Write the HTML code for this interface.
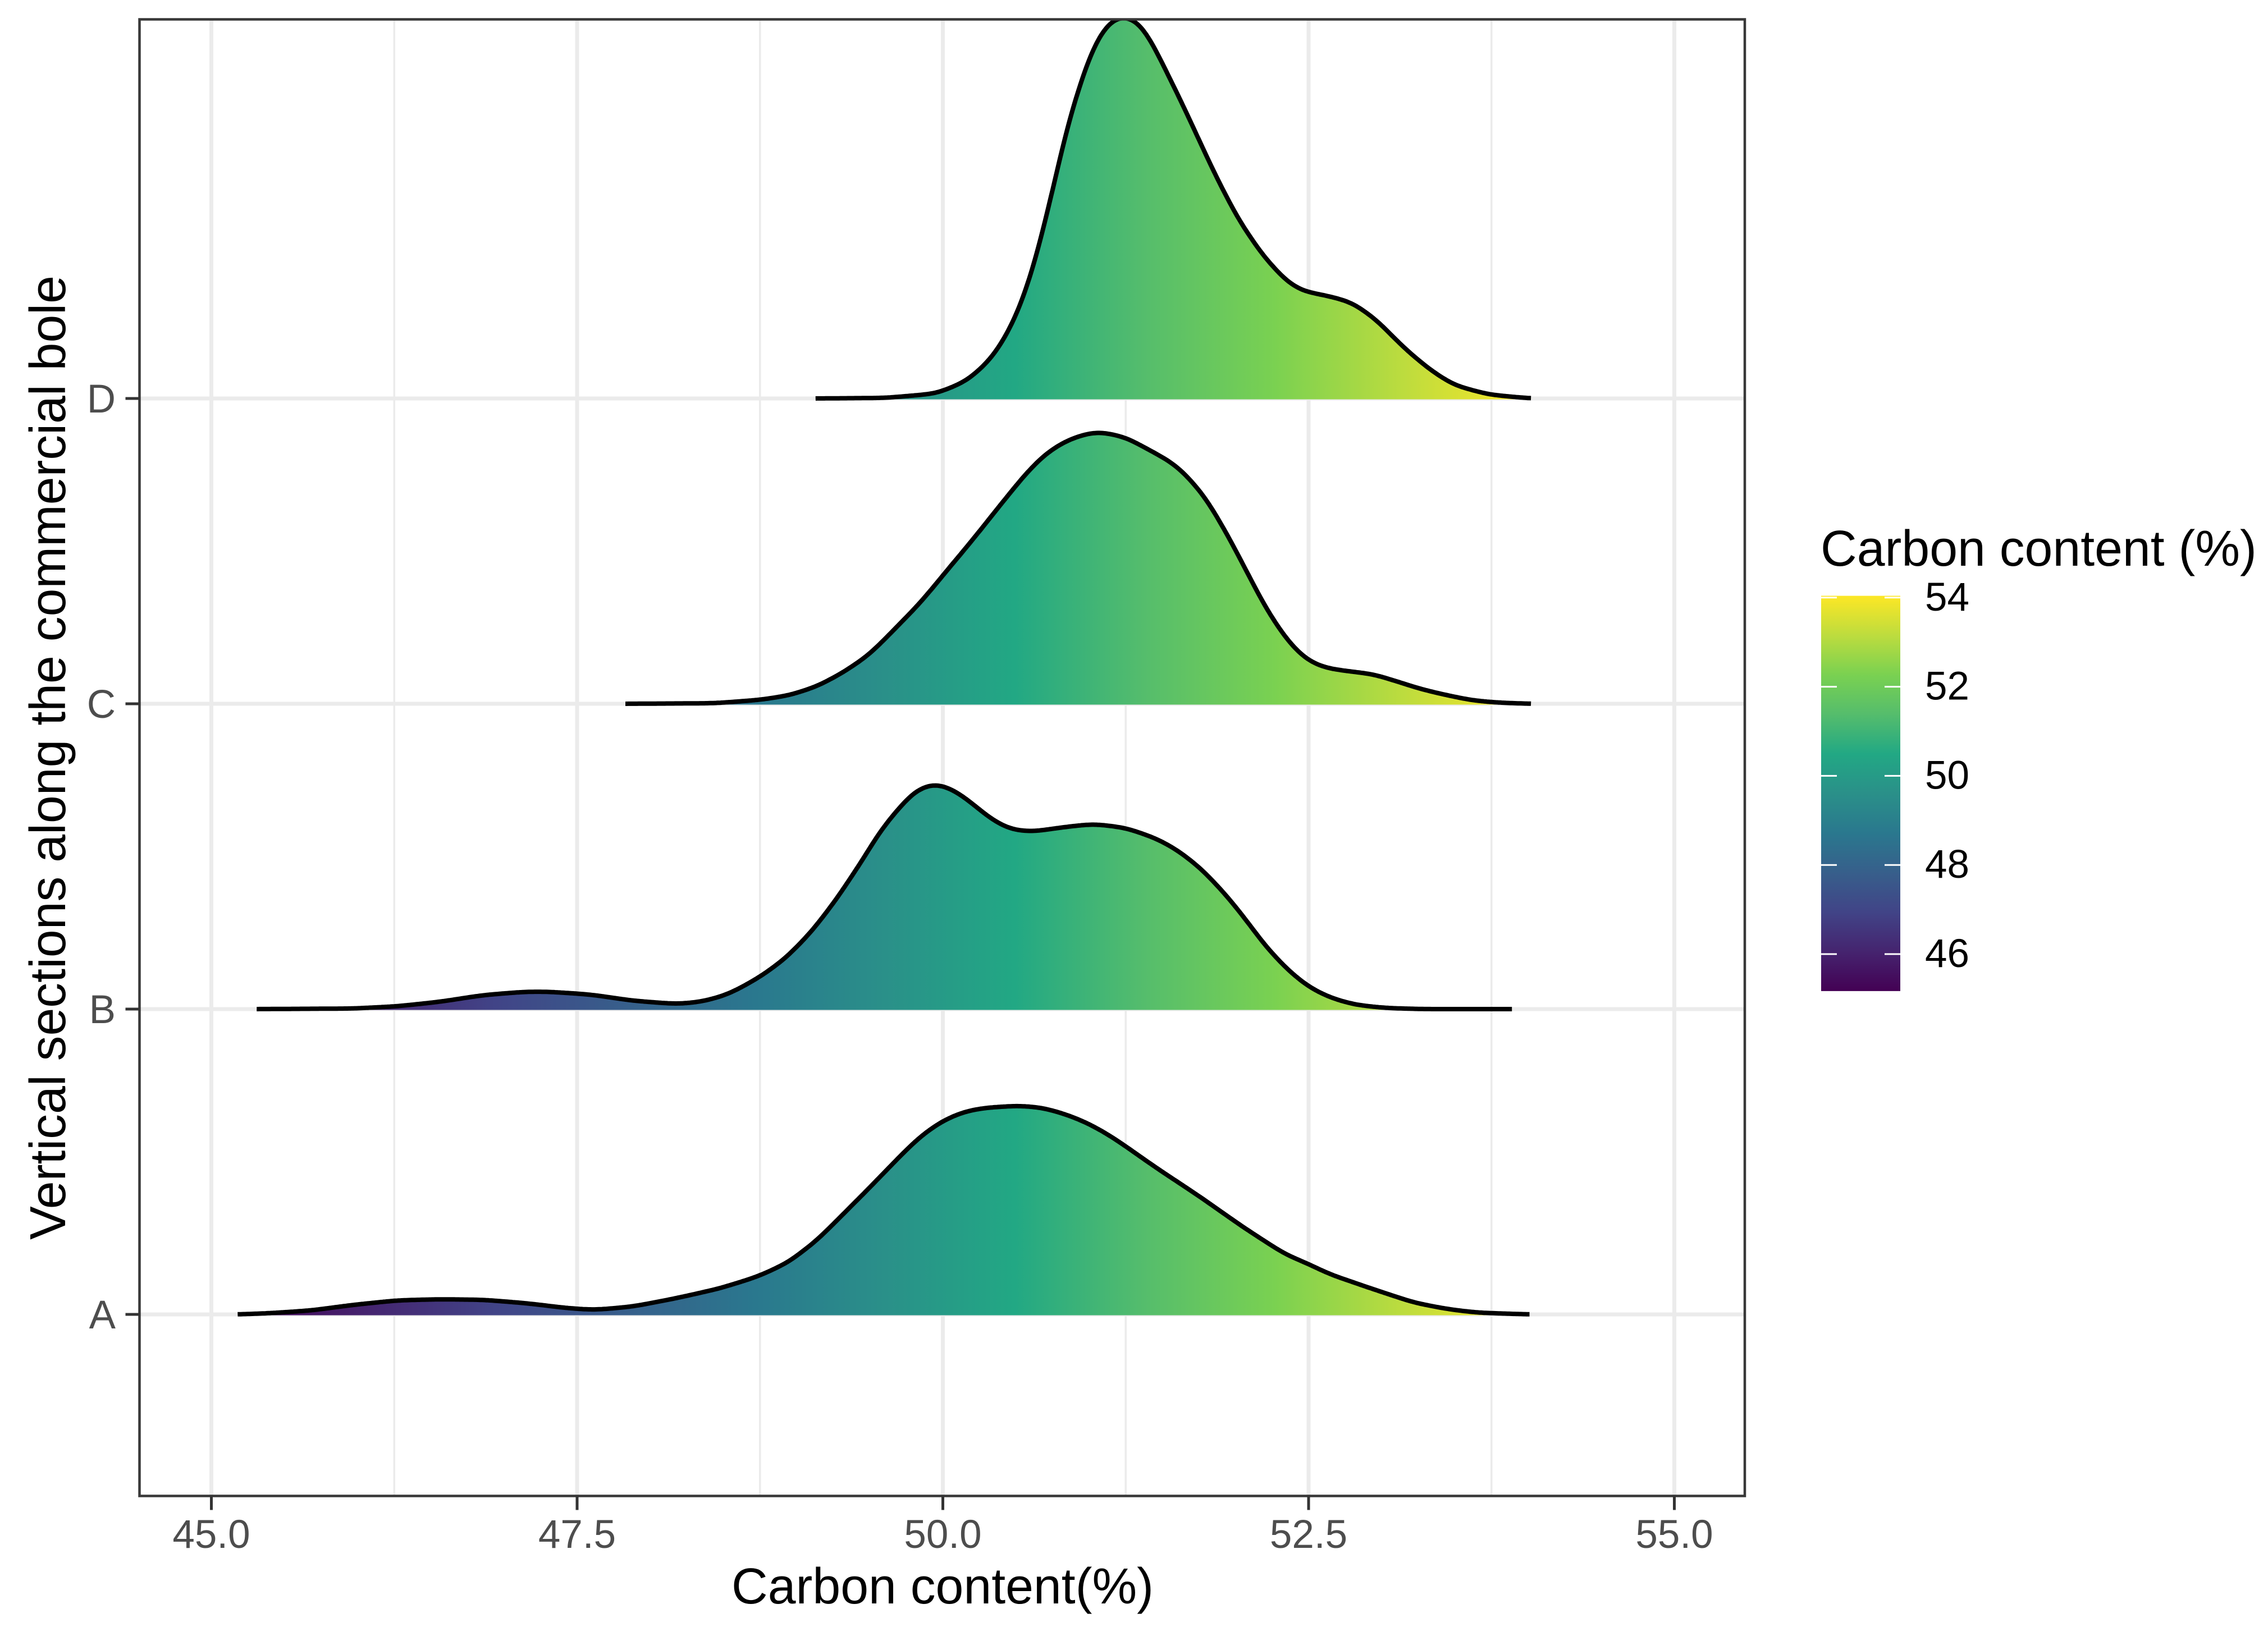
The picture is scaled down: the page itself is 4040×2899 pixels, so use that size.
<!DOCTYPE html>
<html lang="en">
<head>
<meta charset="utf-8">
<title>Carbon content ridgeline chart</title>
<style>
html,body{margin:0;padding:0;background:#fff;}
svg{display:block;font-family:"Liberation Sans",Arial,sans-serif;}
</style>
</head>
<body>
<svg id="chart" xmlns="http://www.w3.org/2000/svg" width="4040" height="2899" viewBox="0 0 4040 2899">
  <rect x="0" y="0" width="4040" height="2899" fill="#ffffff"/>
  <defs>
    <clipPath id="panel-clip"><rect x="248.5" y="34.5" width="2859.5" height="2631"/></clipPath>
  </defs>
  <g id="grid-layer"></g>
  <g id="ridge-layer" clip-path="url(#panel-clip)"></g>
  <rect x="248.5" y="34.5" width="2859.5" height="2631" fill="none" stroke="#383838" stroke-width="4.5"/>
  <g id="axis-layer"></g>
  <text x="1679" y="2857" font-size="89.6" text-anchor="middle" fill="#000000">Carbon content(%)</text>
  <text transform="translate(116,1350) rotate(-90)" x="0" y="0" font-size="89.6" text-anchor="middle" fill="#000000">Vertical sections along the commercial bole</text>
  <g id="legend-layer">
    <text x="3243" y="1008" font-size="89.6" fill="#000000">Carbon content (%)</text>
  </g>
</svg>
<script>
// ---- Chart data ----
const categories = ["A", "B", "C", "D"];
const xTickValues = [45, 47.5, 50, 52.5, 55];
const xTickLabels = ["45.0", "47.5", "50.0", "52.5", "55.0"];
const xMinorValues = [46.25, 48.75, 51.25, 53.75];
const legendValues = [46, 48, 50, 52, 54];
const legendLabels = ["46", "48", "50", "52", "54"];
const fillLimits = [45.17, 54.04];
const paletteColors = ["#440154","#45246f","#414487","#375f8b","#2a788e","#2a9089","#22a884","#55bd6c","#7ad151","#bddc3e","#fde725"];

const carbonA = [45.18,45.39,45.68,45.97,46.27,46.56,46.86,47.15,47.44,47.62,47.88,48.18,48.47,48.73,48.94,49.14,49.32,49.50,49.70,49.84,49.99,50.14,50.28,50.52,50.69,50.87,51.02,51.17,51.46,51.75,52.05,52.34,52.49,52.64,52.93,53.22,53.46,53.66,54.01];
const densityA = [0,0.002,0.007,0.017,0.025,0.027,0.026,0.020,0.011,0.008,0.014,0.029,0.046,0.067,0.092,0.132,0.179,0.226,0.280,0.316,0.344,0.361,0.368,0.372,0.368,0.354,0.337,0.314,0.261,0.211,0.156,0.107,0.091,0.072,0.046,0.021,0.009,0.003,0];

const carbonB = [45.31,45.97,46.27,46.56,46.86,47.15,47.30,47.59,47.88,48.18,48.35,48.53,48.73,48.91,49.09,49.26,49.44,49.58,49.70,49.81,49.95,50.08,50.20,50.32,50.46,50.61,50.82,51.03,51.25,51.46,51.60,51.75,51.90,52.05,52.19,52.34,52.49,52.64,52.81,53.02,53.28,53.89];
const densityB = [0,0.001,0.005,0.013,0.025,0.031,0.031,0.026,0.015,0.009,0.013,0.026,0.054,0.087,0.134,0.191,0.261,0.321,0.358,0.390,0.403,0.390,0.367,0.340,0.320,0.316,0.324,0.330,0.323,0.304,0.284,0.254,0.214,0.167,0.117,0.074,0.041,0.021,0.008,0.002,0,0];

const carbonC = [47.83,48.44,48.75,48.95,49.14,49.32,49.50,49.67,49.85,50.02,50.20,50.38,50.55,50.68,50.82,50.96,51.07,51.25,51.42,51.58,51.71,51.82,51.93,52.04,52.15,52.26,52.37,52.48,52.61,52.77,52.94,53.09,53.27,53.45,53.62,53.80,54.02];
const densityC = [0,0.001,0.007,0.015,0.031,0.056,0.088,0.133,0.181,0.235,0.291,0.350,0.405,0.441,0.466,0.480,0.485,0.475,0.451,0.428,0.395,0.358,0.308,0.255,0.198,0.148,0.108,0.079,0.064,0.058,0.053,0.041,0.026,0.015,0.006,0.002,0];

const carbonD = [49.13,49.61,49.96,50.17,50.34,50.44,50.55,50.65,50.75,50.83,50.92,51.02,51.13,51.25,51.37,51.50,51.67,51.84,52.01,52.18,52.35,52.46,52.63,52.80,52.97,53.14,53.32,53.49,53.73,54.02];
const densityD = [0,0.001,0.009,0.032,0.073,0.114,0.175,0.262,0.369,0.466,0.547,0.624,0.672,0.684,0.664,0.598,0.507,0.410,0.323,0.257,0.208,0.191,0.183,0.171,0.139,0.093,0.053,0.024,0.007,0];

// ---- Axis functions ----
function xScale(v) { return 376.5 + (v - 45) * 260.6; }
function rowScale(i) { return 2342 - i * 544; }
function densityScale(d) { return d * 1000; }
function legendScale(v) { return 1700 - (v - 46) * 79.4; }

const SVG_NS = "http://www.w3.org/2000/svg";
function make(tag, attrs, parent) {
  const el = document.createElementNS(SVG_NS, tag);
  for (const key in attrs) el.setAttribute(key, attrs[key]);
  parent.appendChild(el);
  return el;
}

// Density estimate curve: read-off points are interpolated on a fine grid and
// lightly smoothed so the outline is as smooth as the kernel density it shows.
const curveStep = 0.01;
const curveBandwidth = 0.06;
function interpolate(xs, ys, v) {
  if (v <= xs[0]) return ys[0];
  if (v >= xs[xs.length - 1]) return ys[ys.length - 1];
  let k = 1;
  while (xs[k] < v) k++;
  const t = (v - xs[k - 1]) / (xs[k] - xs[k - 1]);
  return ys[k - 1] + t * (ys[k] - ys[k - 1]);
}
function smoothCurve(xs, ys) {
  const reach = Math.ceil(3 * curveBandwidth / curveStep);
  const weights = [];
  let total = 0;
  for (let j = -reach; j <= reach; j++) {
    const w = Math.exp(-0.5 * Math.pow(j * curveStep / curveBandwidth, 2));
    weights.push(w);
    total += w;
  }
  const n = Math.round((xs[xs.length - 1] - xs[0]) / curveStep);
  const outX = [], outY = [];
  for (let i = 0; i <= n; i++) {
    const v = i === n ? xs[xs.length - 1] : xs[0] + i * curveStep;
    let sum = 0;
    for (let j = -reach; j <= reach; j++) {
      sum += weights[j + reach] * interpolate(xs, ys, v + j * curveStep);
    }
    outX.push(v);
    outY.push(sum / total);
  }
  return [outX, outY];
}
function polyPath(px, py) {
  let d = "M" + px[0].toFixed(1) + " " + py[0].toFixed(1);
  for (let i = 1; i < px.length; i++) d += "L" + px[i].toFixed(1) + " " + py[i].toFixed(1);
  return d;
}

const svg = document.getElementById("chart");
const defs = svg.querySelector("defs");
const gridLayer = document.getElementById("grid-layer");
const ridgeLayer = document.getElementById("ridge-layer");
const axisLayer = document.getElementById("axis-layer");
const legendLayer = document.getElementById("legend-layer");
const panelTop = 34.5, panelBottom = 2665.5, panelLeft = 248.5, panelRight = 3108;

// ---- Gradients ----
function addStops(gradient) {
  paletteColors.forEach(function (color, i) {
    make("stop", { offset: i / (paletteColors.length - 1), "stop-color": color }, gradient);
  });
}
const fillGradient = make("linearGradient", { id: "fill-x", gradientUnits: "userSpaceOnUse", x1: xScale(fillLimits[0]), x2: xScale(fillLimits[1]), y1: 0, y2: 0 }, defs);
addStops(fillGradient);
const legendGradient = make("linearGradient", { id: "fill-y", gradientUnits: "userSpaceOnUse", x1: 0, x2: 0, y1: legendScale(fillLimits[0]), y2: legendScale(fillLimits[1]) }, defs);
addStops(legendGradient);

// ---- Grid ----
xMinorValues.forEach(function (v) {
  const line = make("line", { x1: xScale(v), x2: xScale(v), y1: panelTop, y2: panelBottom, stroke: "#ebebeb", "stroke-width": 3.5 }, gridLayer);
  
  
});
xTickValues.forEach(function (v) {
  const line = make("line", { x1: xScale(v), x2: xScale(v), y1: panelTop, y2: panelBottom, stroke: "#ebebeb", "stroke-width": 7 }, gridLayer);
  
  
});
categories.forEach(function (c, i) {
  const line = make("line", { x1: panelLeft, x2: panelRight, y1: rowScale(i), y2: rowScale(i), stroke: "#ebebeb", "stroke-width": 7 }, gridLayer);
  
  
});

// ---- Ridges ----
const carbonSeries = [carbonA, carbonB, carbonC, carbonD];
const densitySeries = [densityA, densityB, densityC, densityD];
for (let i = categories.length - 1; i >= 0; i--) {
  const base = rowScale(i);
  const smooth = smoothCurve(carbonSeries[i], densitySeries[i]);
  const px = smooth[0].map(xScale);
  const py = smooth[1].map(function (d) { return base - densityScale(d); });
  const curve = polyPath(px, py);
  const area = make("path", {
    d: curve + "L" + px[px.length - 1].toFixed(1) + " " + (base + 1.5) + "L" + px[0].toFixed(1) + " " + (base + 1.5) + "Z",
    fill: "url(#fill-x)", stroke: "none"
  }, ridgeLayer);
  
  
  const line = make("path", { d: curve, fill: "none", stroke: "#000000", "stroke-width": 8, "stroke-linejoin": "round" }, ridgeLayer);
  
  
}

// ---- Axes ----
xTickValues.forEach(function (v, i) {
  const tick = make("line", { x1: xScale(v), x2: xScale(v), y1: panelBottom, y2: panelBottom + 25, stroke: "#333333", "stroke-width": 5 }, axisLayer);
  
  
  const label = make("text", { x: xScale(v), y: 2758, "font-size": 71, "text-anchor": "middle", fill: "#4d4d4d" }, axisLayer);
  
  
  label.textContent = xTickLabels[i];
});
categories.forEach(function (c, i) {
  const tick = make("line", { x1: panelLeft - 25, x2: panelLeft, y1: rowScale(i), y2: rowScale(i), stroke: "#333333", "stroke-width": 5 }, axisLayer);
  
  
  const label = make("text", { x: 206, y: rowScale(i) + 25, "font-size": 71, "text-anchor": "end", fill: "#4d4d4d" }, axisLayer);
  
  
  label.textContent = c;
});

// ---- Legend ----
const barLeft = 3244, barRight = 3385;
const colorBar = make("rect", {
  x: barLeft, y: legendScale(fillLimits[1]), width: barRight - barLeft,
  height: legendScale(fillLimits[0]) - legendScale(fillLimits[1]), fill: "url(#fill-y)"
}, legendLayer);


legendValues.forEach(function (v, i) {
  const y = legendScale(v);
  const tickLeft = make("line", { x1: barLeft, x2: barLeft + 28, y1: y, y2: y, stroke: "#ffffff", "stroke-width": 3 }, legendLayer);
  
  
  const tickRight = make("line", { x1: barRight - 28, x2: barRight, y1: y, y2: y, stroke: "#ffffff", "stroke-width": 3 }, legendLayer);
  
  
  const label = make("text", { x: 3429, y: y + 23, "font-size": 71, fill: "#000000" }, legendLayer);
  
  
  label.textContent = legendLabels[i];
});
</script>
</body>
</html>
